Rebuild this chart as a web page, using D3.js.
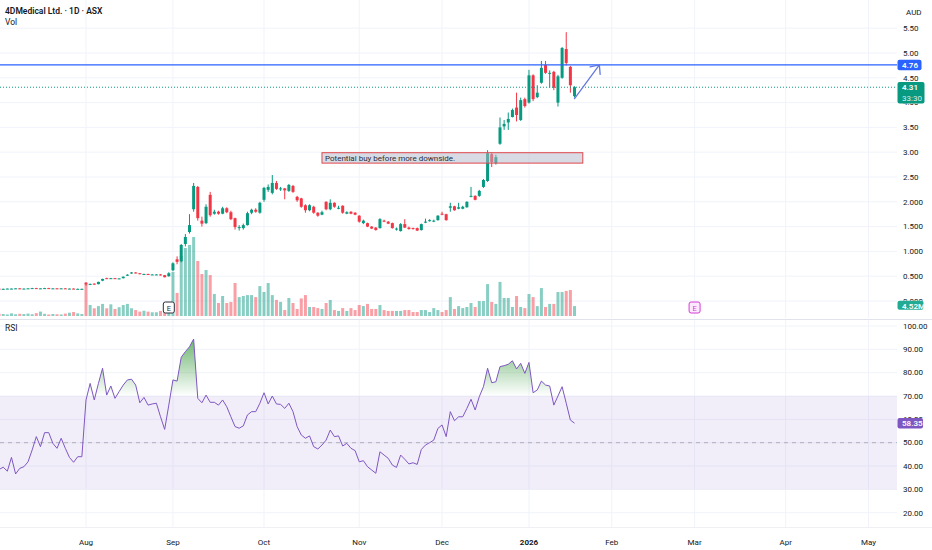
<!DOCTYPE html>
<html>
<head>
<meta charset="utf-8">
<script src="https://cdn.jsdelivr.net/npm/d3@7"></script>
<style>
  html, body { margin: 0; padding: 0; background: #fff; }
  svg { display: block; font-family: Roboto, "Liberation Sans", sans-serif; }
</style>
</head>
<body>
<svg id="chart" width="932" height="550"></svg>
<script>
// ---- data (daily bars, ASX trading days from 2025-07-02) ----
const firstDay = "2025-07-02";
const holidays = ["2025-12-25", "2025-12-26", "2026-01-01", "2026-01-26", "2026-04-03", "2026-04-06"];

const open = [
  0.250,0.250,0.245,0.245,0.250,0.250,0.255,0.250,0.250,0.255,0.260,0.255,0.255,0.260,0.255,0.255,0.250,0.255,0.250,0.250,0.245,0.245,
  0.37,0.33,0.35,0.34,0.41,0.46,0.45,0.46,0.45,0.46,0.51,0.555,0.575,0.56,0.54,0.545,0.535,0.53,0.535,0.52,0.50,
  0.62,0.84,0.80,1.15,1.39,1.85,2.30,1.62,1.57,2.14,1.76,1.80,1.76,1.87,1.79,1.67,1.48,1.47,1.53,1.78,1.84,1.78,
  2.04,2.24,2.18,2.38,2.25,2.27,2.22,2.32,2.10,2.07,1.93,1.83,1.90,1.78,1.74,2.00,1.85,1.98,1.86,1.92,1.76,1.80,1.78,
  1.72,1.57,1.57,1.50,1.48,1.47,1.62,1.60,1.57,1.44,1.41,1.55,1.48,1.47,1.47,1.43,1.58,1.61,1.60,1.63,
  1.76,1.75,1.88,1.91,1.86,1.86,1.89,2.10,2.12,2.12,2.30,2.42,2.96,2.78,3.17,3.52,3.60,3.71,3.90,3.65,4.07,
  4.00,4.55,4.11,4.40,4.76,4.58,4.62,4.00,4.50,5.08,4.72,4.13
];
const high = [
  0.255,0.255,0.250,0.255,0.255,0.260,0.260,0.255,0.260,0.265,0.265,0.260,0.265,0.265,0.260,0.260,0.260,0.260,0.255,0.255,0.250,0.250,
  0.38,0.35,0.355,0.39,0.45,0.47,0.465,0.465,0.46,0.495,0.54,0.585,0.58,0.565,0.55,0.55,0.545,0.54,0.54,0.525,0.58,
  0.78,0.90,1.15,1.35,1.75,2.38,2.32,1.70,1.95,2.20,1.84,1.82,1.90,1.89,1.82,1.68,1.53,1.56,1.80,1.86,1.87,2.00,
  2.30,2.35,2.54,2.42,2.30,2.28,2.36,2.34,2.12,2.08,1.95,1.95,1.92,1.79,1.82,2.01,2.05,1.99,1.92,1.93,1.81,1.81,1.79,
  1.73,1.64,1.58,1.51,1.49,1.67,1.64,1.61,1.58,1.48,1.57,1.65,1.50,1.48,1.48,1.56,1.66,1.65,1.64,1.73,
  1.80,1.76,1.98,1.92,1.98,1.92,2.01,2.30,2.13,2.24,2.46,3.04,2.99,2.95,3.70,3.65,3.80,3.88,4.20,4.10,4.10,
  4.66,4.57,4.35,4.84,4.84,4.65,4.64,4.56,5.12,5.42,4.74,4.33
];
const low = [
  0.245,0.240,0.240,0.245,0.245,0.250,0.245,0.245,0.250,0.255,0.250,0.250,0.255,0.250,0.250,0.245,0.250,0.245,0.245,0.240,0.240,0.240,
  0.31,0.32,0.33,0.335,0.40,0.445,0.445,0.445,0.445,0.455,0.505,0.55,0.555,0.54,0.535,0.53,0.53,0.525,0.515,0.475,0.49,
  0.60,0.74,0.78,1.10,1.36,1.80,1.62,1.50,1.55,1.70,1.74,1.74,1.75,1.77,1.63,1.44,1.42,1.44,1.52,1.75,1.78,1.76,
  2.00,2.20,2.15,2.24,2.22,2.05,2.20,2.18,2.00,1.88,1.78,1.81,1.76,1.70,1.73,1.83,1.83,1.88,1.85,1.76,1.75,1.75,1.73,
  1.58,1.55,1.49,1.45,1.42,1.46,1.59,1.55,1.46,1.42,1.40,1.47,1.44,1.44,1.41,1.42,1.57,1.60,1.59,1.62,
  1.73,1.62,1.80,1.82,1.85,1.85,1.88,2.09,2.03,2.10,2.28,2.40,2.70,2.75,3.15,3.45,3.45,3.70,3.62,3.63,3.90,
  3.98,4.03,4.09,4.38,4.58,4.30,4.25,3.92,4.48,4.75,4.20,4.10
];
const close = [
  0.250,0.245,0.245,0.250,0.250,0.255,0.250,0.250,0.255,0.260,0.255,0.255,0.260,0.255,0.255,0.250,0.255,0.250,0.250,0.245,0.245,0.245,
  0.33,0.345,0.335,0.385,0.445,0.45,0.46,0.45,0.455,0.49,0.53,0.575,0.56,0.545,0.545,0.535,0.535,0.535,0.52,0.48,0.56,
  0.76,0.79,1.13,1.29,1.53,2.32,1.67,1.56,1.90,1.73,1.80,1.76,1.87,1.79,1.65,1.49,1.49,1.53,1.77,1.84,1.80,1.98,
  2.28,2.30,2.38,2.26,2.27,2.23,2.34,2.20,2.03,1.90,1.83,1.93,1.78,1.72,1.79,1.85,1.98,1.90,1.88,1.78,1.79,1.76,1.74,
  1.60,1.62,1.50,1.46,1.43,1.65,1.60,1.56,1.47,1.46,1.55,1.48,1.45,1.45,1.42,1.55,1.60,1.63,1.62,1.72,
  1.74,1.63,1.91,1.83,1.89,1.90,2.00,2.12,2.04,2.22,2.44,2.98,2.80,2.90,3.50,3.57,3.67,3.85,3.75,4.05,3.93,
  4.55,4.07,4.20,4.70,4.60,4.60,4.30,4.53,5.10,4.80,4.35,4.31
];
// volume in millions of shares
const volume = [
  0.8,1.0,0.9,0.7,1.2,0.8,1.0,0.9,1.1,0.8,1.3,2.0,1.0,0.7,0.9,0.8,0.7,1.1,1.5,1.8,1.2,0.9,
  14.1,5.0,3.5,4.5,5.5,3.5,5.3,3.2,4.0,5.0,5.5,3.5,2.7,2.0,2.4,2.0,1.7,1.7,2.3,1.7,2.0,
  20.0,10.5,27.3,30.9,32.3,35.9,25.0,19.1,20.9,18.6,10.0,5.9,9.1,5.9,6.4,15.0,8.6,9.1,9.5,9.5,8.6,13.6,
  10.9,15.0,9.5,7.3,6.4,2.7,8.2,5.9,3.2,8.0,9.5,4.1,4.1,3.6,3.2,5.9,7.3,2.7,2.3,3.6,2.3,3.6,2.7,
  5.0,4.5,5.5,3.2,3.2,5.0,2.7,2.3,2.3,2.3,2.3,2.7,2.7,1.8,1.8,2.7,2.7,1.8,3.6,2.7,
  1.8,2.7,8.6,3.2,4.5,3.6,4.1,5.9,4.1,6.8,6.8,14.5,6.4,5.5,15.5,8.2,8.2,4.1,9.1,4.1,3.6,
  10.0,8.6,4.5,12.7,4.1,5.5,5.5,10.9,10.9,11.4,11.8,4.52
];
const rsi = [
  40.5,38.5,39.5,37.8,43.7,36.6,39.0,39.7,41.8,46.9,52.6,48.3,54.3,54.3,49.7,47.6,51.9,47.6,43.7,41.6,44.0,44.0,
  68.3,75.4,68.3,75.4,81.9,70.4,74.3,69.0,71.9,74.7,76.9,77.2,74.7,67.1,69.4,66.1,66.6,66.9,61.1,55.7,66.1,
  76.9,76.4,86.6,89.0,91.1,94.4,69.0,67.1,70.4,67.3,67.3,66.1,68.3,65.4,61.1,56.9,56.2,57.2,61.9,63.3,63.3,66.9,
  71.4,66.6,70.0,66.6,66.4,64.7,66.9,63.3,56.9,53.3,51.9,52.9,48.3,47.3,49.0,51.1,55.4,52.6,52.9,48.6,49.7,47.6,46.6,
  41.8,42.3,39.7,38.3,36.9,46.1,44.7,43.3,40.4,39.4,44.7,42.9,40.9,41.4,40.7,47.1,49.0,50.0,51.1,56.1,
  57.6,52.6,63.3,59.4,61.1,61.1,64.7,68.6,64.0,69.7,74.0,81.9,75.7,76.1,82.6,83.0,83.6,85.1,81.6,84.0,79.7,
  84.4,71.4,72.6,76.4,74.7,74.3,66.1,70.0,74.0,66.9,59.7,58.35
];

const priceTicks = ["0.000", "0.500", "1.000", "1.500", "2.000", "2.50", "3.00", "3.50", "4.00", "4.50", "5.00", "5.50"];
const rsiTicks = ["20.00", "30.00", "40.00", "50.00", "60.00", "70.00", "80.00", "90.00", "100.00"];
const rsiBands = [30, 50, 70];
const levelPrice = 4.76;
const noteBox = { text: "Potential buy before more downside.", from: "2025-10-21", to: "2026-01-21", top: 2.99, bottom: 2.78 };
const arrowFrom = { date: "2026-01-19", price: 4.08 };
const arrowTo = { date: "2026-01-28", price: 4.76 };
const earnings = [{ date: "2025-08-29", future: false }, { date: "2026-03-02", future: true }];
const countdown = "33:30";

// ---- layout ----
const plotR = 897, mainBot = 318, rsiTop = 320, rsiBot = 527;
const upC = "#089981", dnC = "#f23645";

// trading-day calendar
const parse = d3.utcParse("%Y-%m-%d"), fmt = d3.utcFormat("%Y-%m-%d");
const days = [];
for (let d = parse(firstDay); days.length < 240; d = d3.utcDay.offset(d, 1)) {
  const wd = d.getUTCDay();
  if (wd === 0 || wd === 6 || holidays.includes(fmt(d))) continue;
  days.push(d);
}
const dayIndex = s => days.findIndex(d => fmt(d) === s);
const bars = d3.range(close.length);

const x = d3.scaleLinear().domain([22, 122]).range([86, 500]);
const y = d3.scaleLinear().domain([0, 5.5]).range([301, 28.2]);
const yV = d3.scaleLinear().domain([0, 36]).range([316, 236.8]);
const yR = d3.scaleLinear().domain([20, 100]).range([512.7, 326]);

const lastClose = close[close.length - 1];
const lastVol = volume[volume.length - 1];
const lastRsi = rsi[rsi.length - 1];

// badges on the right scale: centre y, height, width, colour, lines
const badges = [
  { cy: y(levelPrice), h: 10.5, w: 24, bg: "#2962ff", lines: [levelPrice.toFixed(2)] },
  { cy: y(lastClose), h: 21.5, w: 27, bg: upC, lines: [lastClose.toFixed(2), countdown] },
  { cy: yV(lastVol), h: 9, w: 26, bg: "#22ab94", lines: [lastVol.toFixed(2) + "M"] },
  { cy: yR(lastRsi), h: 10.5, w: 25.5, bg: "#7e57c2", lines: [lastRsi.toFixed(2)] }
];

const svg = d3.select("#chart");
const defs = svg.append("defs");
defs.append("clipPath").attr("id", "clipMain")
  .append("rect").attr("x", 0).attr("y", 0).attr("width", plotR).attr("height", mainBot);
defs.append("clipPath").attr("id", "clipRsi")
  .append("rect").attr("x", 0).attr("y", rsiTop).attr("width", plotR).attr("height", rsiBot - rsiTop);
defs.append("clipPath").attr("id", "clipOB")
  .append("rect").attr("x", 0).attr("y", rsiTop).attr("width", plotR).attr("height", yR(70) - rsiTop);
// scale area minus the badges, so tick labels stay hidden under them
defs.append("clipPath").attr("id", "clipScale")
  .append("path").attr("clip-rule", "evenodd")
  .attr("d", "M" + plotR + ",0H932V550H" + plotR + "Z" +
    badges.map(b => `M897.5,${b.cy - 5.2}h${b.w}v${b.h}h${-b.w}Z`).join(""));
const grad = defs.append("linearGradient").attr("id", "obGrad")
  .attr("gradientUnits", "userSpaceOnUse").attr("x1", 0).attr("x2", 0)
  .attr("y1", yR(100)).attr("y2", yR(70));
grad.append("stop").attr("offset", 0).attr("stop-color", "#43a047").attr("stop-opacity", 0.95);
grad.append("stop").attr("offset", 1).attr("stop-color", "#43a047").attr("stop-opacity", 0);

// month ticks (first trading day of each month)
const monthTicks = days.map((d, i) => ({ d, i }))
  .filter(({ d, i }) => i > 0 && d.getUTCMonth() !== days[i - 1].getUTCMonth())
  .filter(t => x(t.i) > 20 && x(t.i) < plotR - 10);

// ---- grid ----
const grid = svg.append("g").attr("stroke", "#f0f3fa").attr("stroke-width", 1);
grid.selectAll(".vg").data(monthTicks).join("path")
  .attr("d", t => `M${x(t.i)},0V${mainBot}M${x(t.i)},${rsiTop}V${rsiBot}`);
grid.selectAll(".hg").data(priceTicks).join("line")
  .attr("x1", 0).attr("x2", plotR).attr("y1", s => y(+s)).attr("y2", s => y(+s));
grid.selectAll(".rg").data(rsiTicks).join("line")
  .attr("x1", 0).attr("x2", plotR).attr("y1", s => yR(+s)).attr("y2", s => yR(+s));

// pane separators
svg.append("line").attr("x1", 0).attr("x2", 932).attr("y1", 319.5).attr("y2", 319.5)
  .attr("stroke", "#e0e3eb");
svg.append("line").attr("x1", 0).attr("x2", 932).attr("y1", rsiBot + 0.5).attr("y2", rsiBot + 0.5)
  .attr("stroke", "#eef0f4");

// ---- main pane ----
const gMain = svg.append("g").attr("clip-path", "url(#clipMain)");

// volume
gMain.append("g").selectAll("rect").data(bars).join("rect")
  .attr("x", k => x(k) - 1.5).attr("width", 3)
  .attr("y", k => yV(volume[k])).attr("height", k => yV(0) - yV(volume[k]))
  .attr("fill", k => close[k] >= open[k] ? upC : dnC).attr("fill-opacity", 0.48);

// candles
const cg = gMain.append("g");
cg.selectAll("line").data(bars).join("line")
  .attr("x1", k => x(k)).attr("x2", k => x(k))
  .attr("y1", k => y(high[k])).attr("y2", k => y(low[k]))
  .attr("stroke", k => close[k] >= open[k] ? upC : dnC).attr("stroke-width", 1);
cg.selectAll("rect").data(bars).join("rect")
  .attr("x", k => x(k) - 1.5).attr("width", 3)
  .attr("y", k => y(Math.max(open[k], close[k])))
  .attr("height", k => Math.max(1, y(Math.min(open[k], close[k])) - y(Math.max(open[k], close[k]))))
  .attr("fill", k => close[k] >= open[k] ? upC : dnC);

// note box
const nx0 = x(dayIndex(noteBox.from)), nx1 = x(dayIndex(noteBox.to));
gMain.append("rect")
  .attr("x", nx0).attr("y", y(noteBox.top))
  .attr("width", nx1 - nx0).attr("height", y(noteBox.bottom) - y(noteBox.top))
  .attr("fill", "rgba(178,184,200,0.5)").attr("stroke", "#e0474c").attr("stroke-width", 1);
gMain.append("text")
  .attr("x", nx0 + 3).attr("y", (y(noteBox.top) + y(noteBox.bottom)) / 2 + 3)
  .attr("font-size", 8).attr("fill", "#2a2e39").text(noteBox.text);

// horizontal level + last price line
gMain.append("line").attr("x1", 0).attr("x2", plotR)
  .attr("y1", y(levelPrice)).attr("y2", y(levelPrice))
  .attr("stroke", "#2962ff").attr("stroke-width", 1.2);
gMain.append("line").attr("x1", 0).attr("x2", plotR)
  .attr("y1", y(lastClose)).attr("y2", y(lastClose))
  .attr("stroke", upC).attr("stroke-width", 1).attr("stroke-dasharray", "1,2");

// arrow
const a0 = [x(dayIndex(arrowFrom.date)), y(arrowFrom.price)];
const a1 = [x(dayIndex(arrowTo.date)), y(arrowTo.price)];
const ang = Math.atan2(a1[1] - a0[1], a1[0] - a0[0]);
const hl = 9.5, ha = 0.72;
const h1 = [a1[0] - hl * Math.cos(ang - ha), a1[1] - hl * Math.sin(ang - ha)];
const h2 = [a1[0] - hl * Math.cos(ang + ha), a1[1] - hl * Math.sin(ang + ha)];
gMain.append("path")
  .attr("d", `M${a0}L${a1}M${h1}L${a1}L${h2}`)
  .attr("fill", "none").attr("stroke", "#6479e0").attr("stroke-width", 1.3)
  .attr("stroke-linecap", "round").attr("stroke-linejoin", "round");

// earnings markers
const eg = gMain.append("g").selectAll("g").data(earnings).join("g")
  .attr("transform", e => `translate(${x(dayIndex(e.date))},307.5)`);
eg.append("rect").attr("x", -5.5).attr("y", -5.5).attr("width", 11).attr("height", 11).attr("rx", 2)
  .attr("fill", e => e.future ? "#fbeafd" : "#fff")
  .attr("stroke", e => e.future ? "#d63cd6" : "#2a2e39").attr("stroke-width", 1);
eg.append("text").attr("text-anchor", "middle").attr("y", 3).attr("font-size", 7.5)
  .attr("fill", e => e.future ? "#d63cd6" : "#2a2e39").text("E");

// ---- RSI pane ----
const gR = svg.append("g").attr("clip-path", "url(#clipRsi)");
gR.append("rect").attr("x", 0).attr("width", plotR)
  .attr("y", yR(rsiBands[2])).attr("height", yR(rsiBands[0]) - yR(rsiBands[2]))
  .attr("fill", "#7e57c2").attr("fill-opacity", 0.1);
gR.append("line").attr("x1", 0).attr("x2", plotR)
  .attr("y1", yR(rsiBands[1])).attr("y2", yR(rsiBands[1]))
  .attr("stroke", "#787b86").attr("stroke-opacity", 0.5).attr("stroke-dasharray", "4,4");
gR.append("path").datum(bars)
  .attr("clip-path", "url(#clipOB)")
  .attr("d", d3.area().x(k => x(k)).y0(yR(70)).y1(k => yR(rsi[k])))
  .attr("fill", "url(#obGrad)");
gR.append("path").datum(bars)
  .attr("d", d3.line().x(k => x(k)).y(k => yR(rsi[k])))
  .attr("fill", "none").attr("stroke", "#7e57c2").attr("stroke-width", 1);

// ---- legends ----
svg.append("text").attr("x", 5).attr("y", 14).attr("font-size", 8.5).attr("font-weight", 600)
  .attr("fill", "#131722").text("4DMedical Ltd. · 1D · ASX");
svg.append("text").attr("x", 5).attr("y", 25).attr("font-size", 8.5)
  .attr("fill", "#131722").text("Vol");
svg.append("text").attr("x", 5).attr("y", 330.5).attr("font-size", 8.5)
  .attr("fill", "#131722").text("RSI");

// ---- price / rsi axes ----
const ax = svg.append("g").attr("font-size", 8).attr("fill", "#131722");
ax.append("text").attr("x", 906).attr("y", 14.5).text("AUD");
const tickG = ax.append("g").attr("clip-path", "url(#clipScale)");
tickG.selectAll(".pt").data(priceTicks).join("text")
  .attr("x", 903).attr("y", s => y(+s)).attr("dy", "0.35em").text(s => s);
tickG.selectAll(".rt").data(rsiTicks).join("text")
  .attr("x", 903).attr("y", s => yR(+s)).attr("dy", "0.35em").text(s => s);

const bg = svg.append("g").selectAll("g").data(badges).join("g");
bg.append("rect").attr("x", 897.5).attr("y", b => b.cy - 5.2)
  .attr("width", b => b.w).attr("height", b => b.h).attr("rx", 2).attr("fill", b => b.bg);
bg.each(function (b) {
  b.lines.forEach((l, j) => d3.select(this).append("text")
    .attr("x", 902).attr("y", b.cy + 3 + j * 10.5)
    .attr("font-size", 8).attr("font-weight", j === 0 ? 600 : 400)
    .attr("fill", "#fff").attr("fill-opacity", j === 0 ? 1 : 0.85).text(l));
});

// ---- time axis ----
svg.append("g").selectAll("text").data(monthTicks).join("text")
  .attr("x", t => x(t.i)).attr("y", 544.5).attr("text-anchor", "middle")
  .attr("font-size", 8).attr("fill", "#131722")
  .attr("font-weight", t => t.d.getUTCMonth() === 0 ? 700 : 400)
  .text(t => t.d.getUTCMonth() === 0 ? d3.utcFormat("%Y")(t.d) : d3.utcFormat("%b")(t.d));
</script>
</body>
</html>
